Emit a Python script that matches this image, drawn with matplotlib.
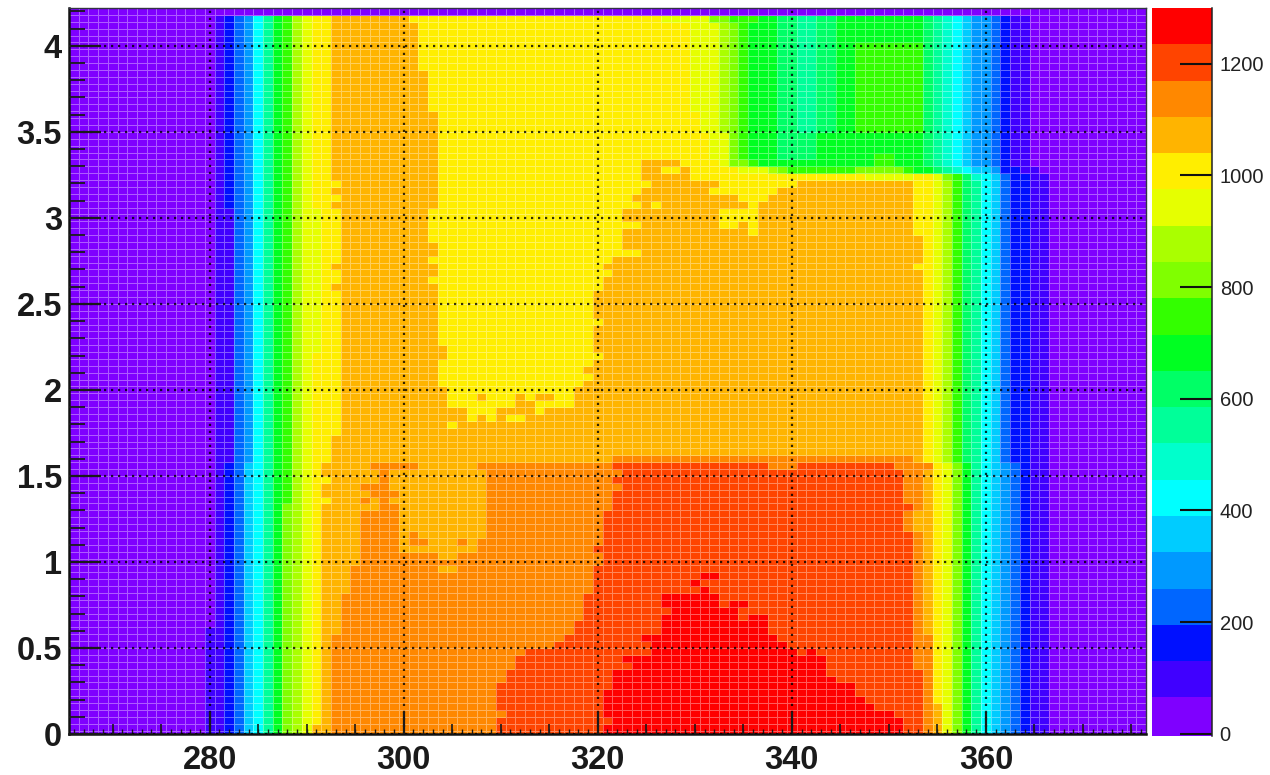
#!/usr/bin/env python3
# -*- coding: utf-8 -*-

import numpy as np
import matplotlib
matplotlib.use('Agg')
import matplotlib.pyplot as plt
from matplotlib.colors import ListedColormap, BoundaryNorm
from matplotlib.transforms import blended_transform_factory

plt.rcParams['font.family'] = ['Liberation Sans', 'DejaVu Sans']

# palette of the z axis, one colour for each 65 wide step
levelColors = ['#7F00FF', '#4000FF', '#0010FF', '#0066FF', '#0099FF',
               '#00CCFF', '#00FFFF', '#00FFCC', '#00FF99', '#00FF66',
               '#00FF22', '#33FF00', '#80FF00', '#AAFF00', '#E6FF00',
               '#FFEE00', '#FFB400', '#FF8800', '#FF4400', '#FF0000']
levelStep = 65

xTickValues = [280, 300, 320, 340, 360]
yTickValues = [0, 0.5, 1, 1.5, 2, 2.5, 3, 3.5, 4]
yTickLabels = ['0', '0.5', '1', '1.5', '2', '2.5', '3', '3.5', '4']
zTickValues = [0, 200, 400, 600, 800, 1000, 1200]

# Cells. One band = (highest row, [(column, level), ...]),
# it holds down to the next band, a level holds up to the next column.
# Row k is centred on y = 0.04 k, column c on x = c.
leftBands = [
    (105, []),
    (104, [(281,1),(282,2),(283,3),(284,4),(285,6),(286,8),(287,10),(288,11),(289,13),(290,14),(291,15)]),
    (76, [(281,1),(283,3),(284,4),(285,6),(286,8),(287,10),(288,11),(289,13),(290,14),(292,15)]),
    (55, [(281,1),(283,3),(284,4),(285,6),(286,8),(287,10),(288,11),(289,13),(290,14),(291,15)]),
    (39, [(281,1),(282,2),(283,3),(284,5),(285,6),(286,8),(287,10),(288,11),(289,13),(290,14),(291,15),(292,16)]),
    (37, [(281,1),(282,2),(283,3),(284,5),(285,6),(286,8),(287,10),(288,11),(289,13),(290,14),(291,15)]),
    (36, [(281,1),(282,2),(283,3),(284,5),(285,6),(286,8),(287,10),(288,11),(289,13),(290,14),(291,15),(292,16)]),
    (34, [(281,1),(282,2),(283,3),(284,5),(285,6),(286,8),(287,10),(288,11),(289,13),(290,14),(291,15)]),
    (33, [(281,1),(282,2),(283,3),(284,5),(285,6),(286,8),(287,10),(288,12),(289,13),(290,14),(291,15),(292,16)]),
    (15, [(280,1),(282,2),(283,3),(284,5),(285,6),(286,8),(287,10),(288,12),(289,13),(290,14),(291,15),(292,16)]),
    (1, [(280,1),(282,2),(283,3),(284,5),(285,6),(286,8),(287,10),(288,12),(289,13),(290,14),(291,16)]),
]

midBands = [
    (105, [(293,0)]),
    (104, [(293,16),(301,15),(327,14),(332,12),(334,11),(337,10),(339,9),(341,8),(343,9),(345,10)]),
    (103, [(293,16),(302,15),(330,14),(333,13),(334,12),(335,11),(336,10),(339,9),(341,8),(343,9),(345,10)]),
    (100, [(293,16),(302,15),(330,14),(333,13),(334,12),(335,11),(336,10),(339,9),(341,8),(343,9),(345,10),(347,11)]),
    (96, [(293,16),(303,15),(330,14),(333,13),(334,12),(335,11),(336,10),(339,9),(341,8),(343,9),(345,10),(347,11)]),
    (90, [(293,16),(304,15),(331,14),(333,13),(334,12),(335,11),(336,10),(339,9),(341,8),(343,9),(345,10),(347,11)]),
    (87, [(293,16),(304,15),(332,14),(334,12),(335,11),(336,10),(339,9),(343,10)]),
    (84, [(293,16),(304,15),(332,14),(334,12),(335,11),(336,10),(339,9),(343,10),(349,11),(351,10)]),
    (83, [(293,16),(304,15),(325,16),(329,15),(333,14),(334,12),(336,11),(337,10),(349,11),(351,10)]),
    (82, [(293,16),(304,15),(325,16),(327,15),(329,16),(330,15),(335,14),(338,13),(339,12),(340,11),(347,12),(352,11),(353,10)]),
    (81, [(293,16),(304,15),(325,16),(330,15),(348,14),(353,15)]),
    (80, [(293,15),(294,16),(304,15),(326,16),(333,15),(341,16),(353,15)]),
    (79, [(293,16),(304,15),(325,16),(332,15),(339,16),(353,15)]),
    (78, [(293,15),(294,16),(304,15),(324,16),(335,15),(338,16),(353,15)]),
    (77, [(293,16),(304,15),(325,16),(326,15),(327,16),(336,15),(337,16),(353,15)]),
    (76, [(293,15),(294,16),(303,15),(323,16),(333,15),(337,16),(353,15)]),
    (74, [(293,15),(294,16),(303,15),(325,16),(333,15),(335,16),(336,15),(337,16),(353,15)]),
    (73, [(293,15),(294,16),(303,15),(323,16),(336,15),(337,16),(353,15)]),
    (72, [(293,15),(294,16),(303,15),(323,16)]),
    (71, [(293,15),(294,16),(304,15),(323,16)]),
    (70, [(293,15),(294,16),(304,15),(325,16)]),
    (69, [(293,15),(294,16),(303,15),(322,16)]),
    (68, [(293,16),(304,15),(321,16),(353,15)]),
    (67, [(293,15),(294,16),(304,15),(322,16)]),
    (66, [(293,15),(294,16),(303,15),(321,16)]),
    (65, [(293,16),(304,15),(321,16)]),
    (64, [(293,15),(294,16),(304,15),(320,16)]),
    (60, [(293,15),(294,16),(304,15),(321,16)]),
    (59, [(293,15),(294,16),(304,15),(320,16)]),
    (56, [(293,15),(294,16),(305,15),(320,16)]),
    (55, [(293,15),(294,16),(305,15),(321,16)]),
    (54, [(293,15),(294,16),(304,15),(320,16)]),
    (53, [(293,15),(294,16),(304,15),(319,16)]),
    (52, [(293,15),(294,16),(304,15),(320,16)]),
    (51, [(293,15),(294,16),(304,15),(319,16)]),
    (50, [(293,15),(294,16),(305,15),(318,16)]),
    (49, [(293,15),(294,16),(305,15),(308,16),(309,15),(312,16),(313,15),(314,16),(316,15),(318,16)]),
    (48, [(293,15),(294,16),(305,15),(312,16),(314,15),(318,16)]),
    (47, [(293,15),(294,16),(307,15),(310,16),(314,15),(315,16)]),
    (46, [(293,15),(294,16),(307,15),(308,16),(309,15),(310,16),(311,15),(313,16)]),
    (45, [(293,15),(294,16),(305,15),(306,16)]),
    (44, [(293,15),(294,16)]),
    (43, [(293,16)]),
    (40, [(293,16),(322,17),(353,16)]),
    (39, [(293,16),(297,17),(302,16),(308,17),(322,18),(338,17),(341,18),(351,17)]),
    (38, [(293,16),(298,17),(299,16),(309,17),(323,18),(352,17)]),
    (37, [(293,16),(298,17),(299,16),(309,17),(322,18),(352,17)]),
    (36, [(293,16),(296,17),(299,16),(309,17),(323,18),(352,17)]),
    (35, [(293,16),(297,17),(300,16),(309,17),(322,18),(352,17)]),
    (34, [(293,16),(296,17),(297,16),(298,17),(299,16),(309,17),(322,18),(352,17)]),
    (33, [(293,16),(298,17),(300,16),(309,17),(322,18),(353,17)]),
    (32, [(293,16),(296,17),(300,16),(309,17),(321,18),(352,17),(353,16)]),
    (29, [(293,16),(296,17),(300,16),(301,17),(302,16),(309,17),(321,18),(353,17)]),
    (28, [(293,16),(296,17),(300,16),(301,17),(303,16),(306,17),(307,16),(308,17),(321,18),(353,17)]),
    (27, [(293,16),(296,17),(300,16),(308,17),(320,18),(353,17)]),
    (26, [(293,16),(296,17),(304,16),(306,17),(321,18),(353,17)]),
    (25, [(293,16),(296,17),(321,18),(353,17)]),
    (24, [(293,16),(295,17),(304,16),(306,17),(320,18),(353,17)]),
    (23, [(293,16),(295,17),(320,18),(331,19),(333,18),(353,17)]),
    (22, [(293,16),(295,17),(320,18),(330,19),(331,18),(353,17)]),
    (21, [(293,16),(295,17),(320,18),(331,19),(332,18),(353,17)]),
    (20, [(293,16),(294,17),(319,18),(327,19),(333,18),(353,17)]),
    (19, [(293,16),(294,17),(319,18),(327,19),(333,18),(334,19),(336,18),(353,17)]),
    (18, [(293,16),(294,17),(319,18),(328,19),(335,18),(353,17)]),
    (17, [(293,16),(294,17),(319,18),(327,19),(335,18),(336,19),(338,18),(353,17)]),
    (16, [(293,16),(294,17),(318,18),(327,19),(338,18),(353,17)]),
    (14, [(293,17),(317,18),(325,19),(339,18),(353,17)]),
    (13, [(293,17),(316,18),(326,19),(340,18),(353,17)]),
    (12, [(293,17),(313,18),(326,19),(341,18),(342,19),(343,18),(353,17)]),
    (11, [(293,17),(312,18),(323,19),(344,18),(353,17)]),
    (10, [(293,17),(312,18),(324,19),(344,18),(353,17)]),
    (9, [(293,17),(311,18),(322,19),(344,18)]),
    (8, [(293,17),(311,18),(322,19),(345,18)]),
    (7, [(293,17),(310,18),(322,19),(347,18)]),
    (6, [(293,17),(310,18),(321,19),(347,18)]),
    (5, [(293,17),(310,18),(321,19),(348,18)]),
    (4, [(293,17),(310,18),(321,19),(349,18)]),
    (3, [(293,17),(311,18),(321,19),(351,18)]),
    (2, [(293,17),(310,18),(322,19),(352,18)]),
    (1, [(293,17),(310,18),(321,19),(352,18)]),
]

rightBands = [
    (105, []),
    (104, [(354,9),(355,8),(356,7),(357,6),(358,5),(359,4),(361,3),(362,2),(363,1),(365,0)]),
    (82, [(354,10),(355,9),(356,8),(357,7),(358,6),(359,5),(361,4),(362,2),(364,1),(366,0)]),
    (81, [(354,15),(355,14),(356,12),(357,11),(358,9),(359,7),(360,6),(361,5),(362,3),(363,2),(365,1),(367,0)]),
    (80, [(354,15),(355,14),(356,13),(357,11),(358,9),(359,8),(360,6),(361,5),(362,3),(363,2),(365,1),(367,0)]),
    (39, [(354,17),(355,15),(356,14),(357,12),(358,10),(359,8),(360,6),(361,5),(362,4),(363,3),(364,2),(365,1),(367,0)]),
    (38, [(354,16),(355,15),(356,14),(357,12),(358,10),(359,8),(360,6),(361,5),(362,4),(363,3),(364,2),(365,1),(367,0)]),
    (14, [(354,17),(355,15),(356,14),(357,12),(358,10),(359,8),(360,6),(361,5),(362,4),(363,3),(364,2),(365,1),(367,0)]),
    (4, [(354,17),(355,16),(356,14),(357,12),(358,10),(359,8),(360,6),(361,5),(362,4),(363,3),(364,2),(365,1),(367,0)]),
]


def expandBands(bands, firstCol, lastCol):
    grid = np.zeros((106, lastCol - firstCol + 1))
    for i, (topRow, changes) in enumerate(bands):
        nextRow = bands[i + 1][0] if i + 1 < len(bands) else -1
        for col, level in changes:
            grid[nextRow + 1:topRow + 1, col - firstCol:] = level
    return grid


levels = np.hstack([expandBands(leftBands, 266, 292),
                    expandBands(midBands, 293, 353),
                    expandBands(rightBands, 354, 376)])
zValues = levels * levelStep + levelStep / 2

xEdges = np.arange(265.5, 377.5)
yEdges = (np.arange(107) - 0.5) * 0.04

cmap = ListedColormap(levelColors)
zBounds = np.arange(len(levelColors) + 1) * levelStep
norm = BoundaryNorm(zBounds, cmap.N)

width, height = 1270, 775


def pixelBox(left, top, right, bottom):
    return [left / width, 1 - bottom / height,
            (right - left) / width, (bottom - top) / height]


fig = plt.figure(figsize=(12.7, 7.75), dpi=100)

# main plot
ax = fig.add_axes(pixelBox(69, 8, 1146, 734))
ax.pcolormesh(xEdges, yEdges, zValues, cmap=cmap, norm=norm,
              edgecolors=(1, 1, 1, 0.36), linewidth=0.7, zorder=1)
ax.set_xlim(265.5, 376.5)
ax.set_ylim(0, 4.22)

ax.set_xticks(xTickValues)
ax.set_yticks(yTickValues)
ax.set_yticklabels(yTickLabels)
ax.set_xticks(np.arange(266, 377), minor=True)
ax.set_yticks(np.arange(0, 4.21, 0.1), minor=True)
ax.tick_params(axis='x', which='major', direction='in', length=16, width=1.6,
               pad=8, labelsize=23.5, colors='#1a1a1a')
ax.tick_params(axis='y', which='major', direction='in', length=23, width=1.6,
               pad=5, labelsize=23.5, colors='#1a1a1a')
ax.tick_params(axis='x', which='minor', direction='in', length=3.6, width=1.0,
               color='#1a1a1a')
ax.tick_params(axis='y', which='minor', direction='in', length=11.5, width=1.3,
               color='#1a1a1a')
for label in ax.get_xticklabels() + ax.get_yticklabels():
    label.set_fontweight('bold')

# the 5 unit ticks of the x axis are a bit longer
xTrans = blended_transform_factory(ax.transData, ax.transAxes)
ax.vlines([x for x in range(270, 376, 5) if x not in xTickValues], 0, 0.014,
          transform=xTrans, color='#1a1a1a', linewidth=1.2, zorder=3)

ax.grid(True, which='major', color='black', linewidth=1.6,
        linestyle=(0, (1, 2.15)), alpha=0.8)
ax.set_axisbelow(False)

for side in ['left', 'bottom']:
    ax.spines[side].set_linewidth(1.8)
    ax.spines[side].set_color('#111111')
for side in ['top', 'right']:
    ax.spines[side].set_linewidth(1.0)
    ax.spines[side].set_color('#333344')

# palette
axBar = fig.add_axes(pixelBox(1152, 8, 1212, 736))
axBar.pcolormesh([0, 1], np.r_[-4, zBounds[1:]], np.arange(len(levelColors))[:, None] * levelStep + 1,
                 cmap=cmap, norm=norm)
axBar.set_xlim(0, 1)
axBar.set_ylim(-4, 1300)
axBar.set_xticks([])
axBar.yaxis.tick_right()
axBar.set_yticks(zTickValues)
axBar.tick_params(axis='y', direction='in', length=23, width=1.5, pad=5.5,
                  labelsize=14.5, color='#111111', labelcolor='#222222')
for side in ['left', 'top', 'bottom']:
    axBar.spines[side].set_visible(False)
axBar.spines['right'].set_linewidth(1.1)
axBar.spines['right'].set_color('#222222')

fig.savefig('out.png', dpi=100)
